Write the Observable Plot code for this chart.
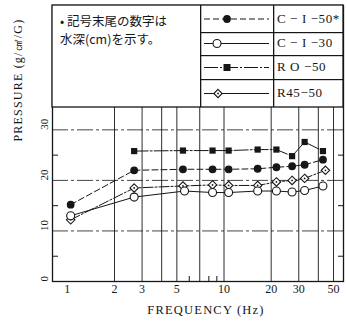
<!DOCTYPE html>
<html>
<head>
<meta charset="utf-8">
<script src="https://cdn.jsdelivr.net/npm/d3@7"></script>
<script src="https://cdn.jsdelivr.net/npm/@observablehq/plot@0.6"></script>
<style>
  html, body { margin: 0; padding: 0; background: #fff; }
  svg { display: block; }
</style>
</head>
<body>
<div id="chart"></div>
<script>
// ---- data ----
const seriesNames = ["C − I −50*", "C − I −30", "R O −50", "R45−50"];
const freqCI50 = [1.05, 2.67, 5.47, 8.45, 10.7, 16.4, 21.6, 27.2, 32.7, 42.8];
const valCI50  = [15.2, 22.0, 22.2, 22.2, 22.2, 22.3, 22.6, 22.8, 23.1, 24.1];
const freqCI30 = [1.05, 2.67, 5.6, 8.45, 10.7, 16.4, 21.6, 27.2, 32.7, 42.8];
const valCI30  = [13.0, 16.7, 17.9, 17.6, 17.6, 17.9, 17.9, 17.7, 18.0, 18.9];
const freqRO50 = [2.67, 5.47, 8.45, 10.7, 16.4, 21.6, 27.2, 32.7, 42.8];
const valRO50  = [25.8, 25.9, 25.9, 25.9, 26.1, 26.1, 24.8, 27.6, 25.8];
const freqR45  = [1.05, 2.67, 5.47, 8.45, 10.7, 16.4, 21.6, 27.2, 32.7, 44.4];
const valR45   = [12.2, 18.5, 18.9, 19.1, 19.0, 19.0, 19.7, 20.0, 20.4, 22.0];

const xTicks = [1, 2, 3, 5, 10, 20, 30, 50];
const xGrid = [2, 3, 4, 5, 7, 10, 20, 30, 40, 50];
const xMinor = [6, 8, 9];
const yTicks = [0, 10, 20, 30];
const yGrid = [10, 20, 30];
const yMinor = [5, 15, 25];
const noteLines = ["• 記号末尾の数字は", "水深(cm)を示す。"];
const xLabel = "FREQUENCY (Hz)";
const yLabel = "PRESSURE (g/㎠/G)";

const serif = "'Liberation Serif', 'DejaVu Serif', serif";
const cjk = "'Noto Sans CJK JP', 'Noto Sans', sans-serif";
const ink = "#161616";

const toRows = (fs, vs) => fs.map((f, i) => ({f, v: vs[i]}));
const dCI50 = toRows(freqCI50, valCI50);
const dCI30 = toRows(freqCI30, valCI30);
const dRO50 = toRows(freqRO50, valRO50);
const dR45 = toRows(freqR45, valR45);

const W = 347, H = 325;
const chart = Plot.plot({
  width: W, height: H,
  marginLeft: 52, marginRight: 4, marginTop: 5, marginBottom: 44,
  style: {background: "#fff", fontFamily: serif, color: ink},
  x: {type: "log", domain: [0.804, 57.9], axis: null},
  y: {domain: [0, 54.6], axis: null},
  marks: [
    // grid and inner ticks
    Plot.ruleX(xGrid, {stroke: ink, strokeWidth: 0.9}),
    Plot.ruleY(yGrid, {stroke: ink, strokeWidth: 0.8, strokeDasharray: "16,3,3,3"}),
    Plot.ruleY(yMinor, {stroke: ink, strokeWidth: 1, insetRight: 285}),
    Plot.ruleY(yMinor, {stroke: ink, strokeWidth: 1, insetLeft: 286}),
    Plot.ruleX(xMinor, {stroke: ink, strokeWidth: 1, insetTop: 271}),
    Plot.frame({stroke: ink, strokeWidth: 1.3}),
    // series lines
    Plot.line(dCI50, {x: "f", y: "v", stroke: ink, strokeWidth: 1, strokeDasharray: "6,3"}),
    Plot.line(dCI30, {x: "f", y: "v", stroke: ink, strokeWidth: 1}),
    Plot.line(dRO50, {x: "f", y: "v", stroke: ink, strokeWidth: 1, strokeDasharray: "14,2,2,2"}),
    Plot.line(dR45, {x: "f", y: "v", stroke: ink, strokeWidth: 1, strokeDasharray: "10,2,2,2"}),
    // markers
    Plot.dot(dRO50, {x: "f", y: "v", symbol: "square", r: 3.5, fill: ink, stroke: "none"}),
    Plot.dot(dCI50, {x: "f", y: "v", symbol: "circle", r: 3.9, fill: ink, stroke: "none"}),
    Plot.dot(dR45, {x: "f", y: "v", symbol: "diamond2", r: 3.8, fill: "#fff", stroke: ink, strokeWidth: 1.1}),
    Plot.dot(dR45, {x: "f", y: "v", r: 0.9, fill: ink, stroke: "none"}),
    Plot.dot(dCI30, {x: "f", y: "v", symbol: "circle", r: 4, fill: "#fff", stroke: ink, strokeWidth: 1.1}),
    // tick labels
    Plot.text(yTicks, {y: d => d, text: d => String(d), frameAnchor: "left", dx: -8, rotate: -90, fontSize: 11, fontFamily: serif, fill: ink}),
    Plot.text(xTicks, {x: d => d, text: d => String(d), frameAnchor: "bottom", dy: 11, fontSize: 12, fontFamily: serif, fill: ink}),
    // axis titles
    Plot.text([xLabel], {frameAnchor: "bottom", dx: 8, dy: 32, fontSize: 12.5, fontFamily: serif, fill: ink}),
    Plot.text([yLabel], {frameAnchor: "left", dx: -34, dy: -2, rotate: -90, fontSize: 12, fontFamily: serif, fill: ink})
  ]
});

document.getElementById("chart").appendChild(chart);

const svg = d3.select(chart);
svg.selectAll("text").filter(function() { return this.textContent === xLabel || this.textContent === yLabel; })
  .attr("letter-spacing", "1.2px");

// ---- legend table (top of frame) ----
const L = {x0: 52, x1: 343, y0: 5, y1: 107, c1: 200, c2: 273, rows: [5, 32, 55, 79, 107]};
const g = svg.append("g").attr("class", "legend-table").attr("text-anchor", "start");
g.append("rect").attr("x", L.x0).attr("y", L.y0).attr("width", L.x1 - L.x0).attr("height", L.y1 - L.y0)
  .attr("fill", "#fff");
for (const cx of [L.c1, L.c2]) {
  g.append("rect").attr("x", cx).attr("y", L.y0).attr("width", 1.3).attr("height", L.y1 - L.y0).attr("fill", ink);
}
for (const ry of L.rows.slice(1, -1)) {
  g.append("rect").attr("x", L.c1).attr("y", ry).attr("width", L.x1 - L.c1).attr("height", 1.2).attr("fill", ink);
}
g.append("rect").attr("x", L.x0).attr("y", L.y0).attr("width", L.x1 - L.x0).attr("height", L.y1 - L.y0)
  .attr("fill", "none").attr("stroke", ink).attr("stroke-width", 1.3);

noteLines.forEach((t, i) => g.append("text").attr("x", 60).attr("y", 23 + i * 18)
  .attr("text-anchor", "start").attr("dominant-baseline", "middle")
  .attr("font-family", cjk).attr("font-size", 12.5).attr("fill", ink).text(t));

const styles = [
  {dash: "6,3", mx: 227, sym: "circle", fill: ink},
  {dash: null, mx: 217, sym: "circle", fill: "#fff"},
  {dash: "14,2,2,2", mx: 227, sym: "square", fill: ink},
  {dash: null, mx: 218, sym: "diamond", fill: "#fff"}
];
const centers = [19, 43.5, 67.5, 93.5];
styles.forEach((s, i) => {
  const cy = centers[i];
  const ln = g.append("line").attr("x1", 204).attr("x2", 269).attr("y1", cy).attr("y2", cy)
    .attr("stroke", ink).attr("stroke-width", 1);
  if (s.dash) ln.attr("stroke-dasharray", s.dash);
  if (s.sym === "circle") {
    g.append("circle").attr("cx", s.mx).attr("cy", cy).attr("r", s.fill === ink ? 3.9 : 4)
      .attr("fill", s.fill).attr("stroke", ink).attr("stroke-width", s.fill === ink ? 0 : 1.1);
  } else if (s.sym === "square") {
    g.append("rect").attr("x", s.mx - 3.5).attr("y", cy - 3.5).attr("width", 7).attr("height", 7).attr("fill", ink);
  } else {
    g.append("path").attr("d", d3.symbol(d3.symbolDiamond2, 44)()).attr("transform", `translate(${s.mx},${cy})`)
      .attr("fill", "#fff").attr("stroke", ink).attr("stroke-width", 1.1);
    g.append("circle").attr("cx", s.mx).attr("cy", cy).attr("r", 0.9).attr("fill", ink);
  }
  g.append("text").attr("x", 277).attr("y", cy + 1).attr("text-anchor", "start").attr("dominant-baseline", "middle")
    .attr("font-family", serif).attr("font-size", 13).attr("letter-spacing", "0.6px").attr("fill", ink).text(seriesNames[i]);
});
</script>
</body>
</html>
